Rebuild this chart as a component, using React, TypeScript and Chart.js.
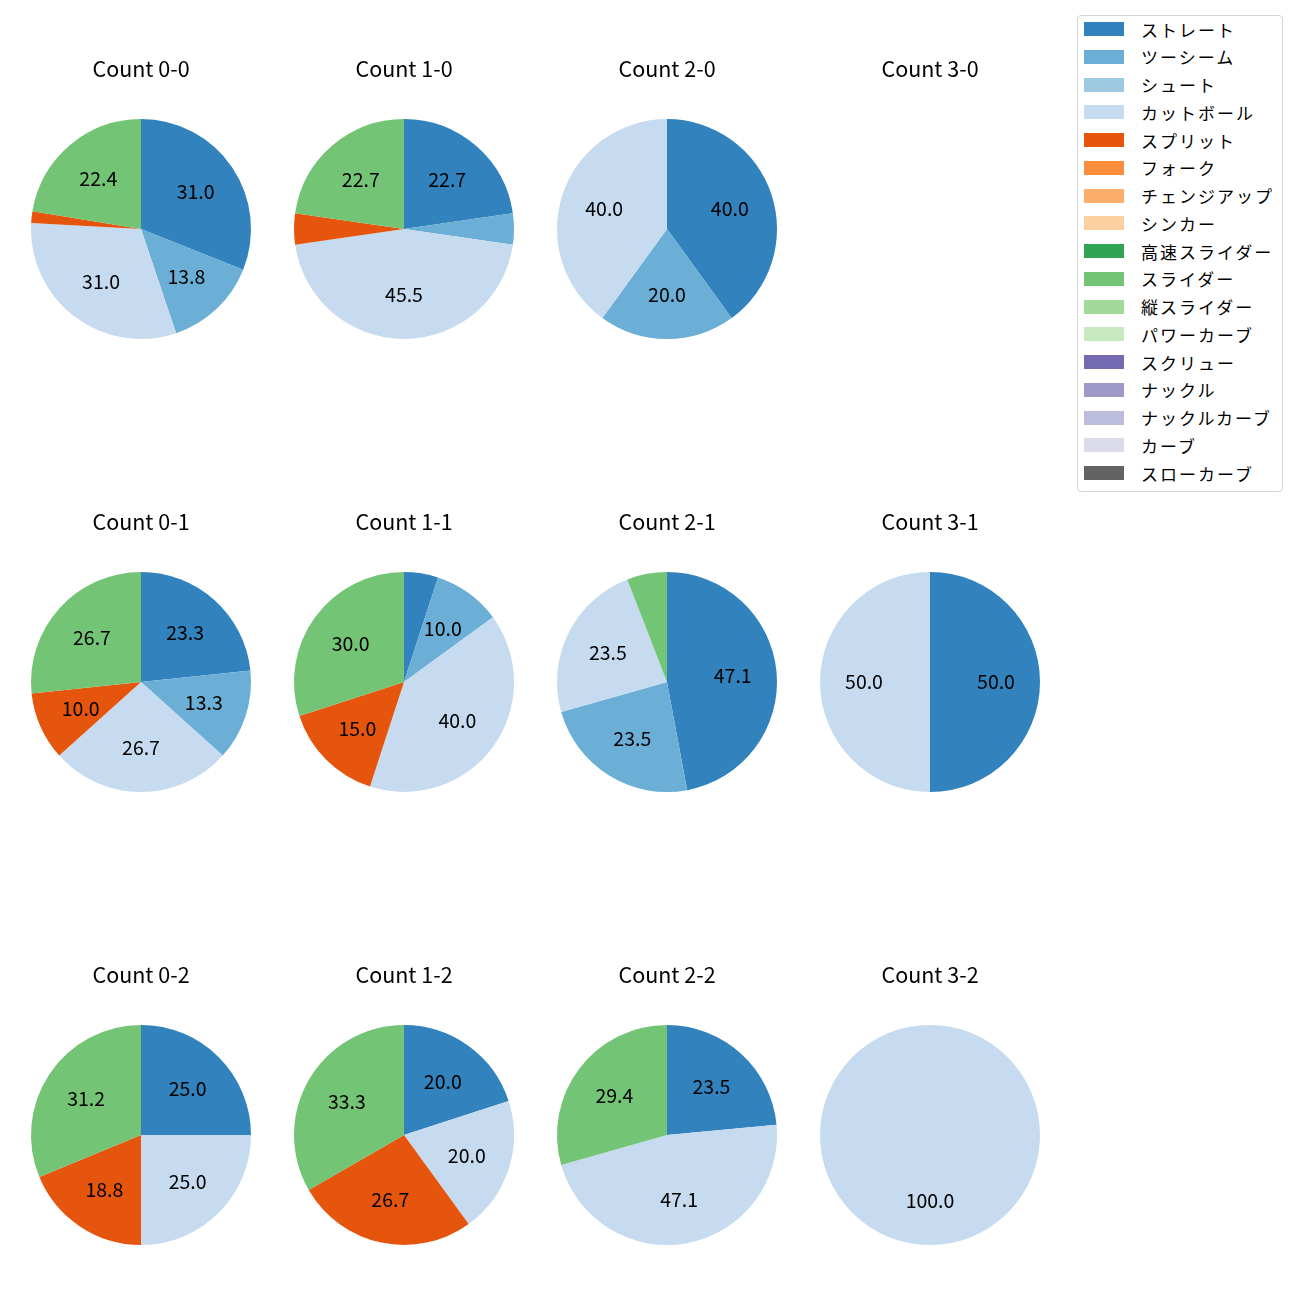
import React, { useEffect, useRef } from "react";
import { Chart, registerables } from "chart.js";

Chart.register(...registerables);

const pitchTypes = [
  "ストレート", "ツーシーム", "シュート", "カットボール", "スプリット", "フォーク",
  "チェンジアップ", "シンカー", "高速スライダー", "スライダー", "縦スライダー",
  "パワーカーブ", "スクリュー", "ナックル", "ナックルカーブ", "カーブ", "スローカーブ",
];

const pitchColors = [
  "#3182bd", "#6baed6", "#9ecae1", "#c6dbef", "#e6550d", "#fd8d3c", "#fdae6b",
  "#fdd0a2", "#31a354", "#74c476", "#a1d99b", "#c7e9c0", "#756bb1", "#9e9ac8",
  "#bcbddc", "#dadaeb", "#636363",
];

const countTitles = [
  "Count 0-0", "Count 1-0", "Count 2-0", "Count 3-0",
  "Count 0-1", "Count 1-1", "Count 2-1", "Count 3-1",
  "Count 0-2", "Count 1-2", "Count 2-2", "Count 3-2",
];

// pitch counts per category, in pitchTypes order
const count00 = [18, 8, 0, 18, 1, 0, 0, 0, 0, 13, 0, 0, 0, 0, 0, 0, 0];
const count10 = [5, 1, 0, 10, 1, 0, 0, 0, 0, 5, 0, 0, 0, 0, 0, 0, 0];
const count20 = [2, 1, 0, 2, 0, 0, 0, 0, 0, 0, 0, 0, 0, 0, 0, 0, 0];
const count30 = [0, 0, 0, 0, 0, 0, 0, 0, 0, 0, 0, 0, 0, 0, 0, 0, 0];
const count01 = [7, 4, 0, 8, 3, 0, 0, 0, 0, 8, 0, 0, 0, 0, 0, 0, 0];
const count11 = [1, 2, 0, 8, 3, 0, 0, 0, 0, 6, 0, 0, 0, 0, 0, 0, 0];
const count21 = [8, 4, 0, 4, 0, 0, 0, 0, 0, 1, 0, 0, 0, 0, 0, 0, 0];
const count31 = [1, 0, 0, 1, 0, 0, 0, 0, 0, 0, 0, 0, 0, 0, 0, 0, 0];
const count02 = [4, 0, 0, 4, 3, 0, 0, 0, 0, 5, 0, 0, 0, 0, 0, 0, 0];
const count12 = [3, 0, 0, 3, 4, 0, 0, 0, 0, 5, 0, 0, 0, 0, 0, 0, 0];
const count22 = [4, 0, 0, 8, 0, 0, 0, 0, 0, 5, 0, 0, 0, 0, 0, 0, 0];
const count32 = [0, 0, 0, 1, 0, 0, 0, 0, 0, 0, 0, 0, 0, 0, 0, 0, 0];

const allCounts = [
  count00, count10, count20, count30,
  count01, count11, count21, count31,
  count02, count12, count22, count32,
];

const FONT = "'Noto Sans CJK JP', 'Noto Sans', sans-serif";
const colCenters = [141, 404, 667, 930];
const rowCenters = [229, 682, 1135];
const R = 110;
const CW = 260;
const CH = 300;
const PAD_TOP = 70;

// Python-style "%.1f" (round half to even on exact halves)
function fmt1(v: number): string {
  const s = v * 10;
  const fl = Math.floor(s);
  const d = s - fl;
  let n: number;
  if (Math.abs(d - 0.5) < 1e-9) n = fl % 2 === 0 ? fl : fl + 1;
  else n = Math.round(s);
  return (n / 10).toFixed(1);
}

const pieLabelPlugin = {
  id: "pieLabels",
  afterDatasetsDraw(chart: any) {
    const ctx = chart.ctx;
    const meta = chart.getDatasetMeta(0);
    const data = chart.data.datasets[0].data as number[];
    const total = data.reduce((a, b) => a + b, 0);
    if (!total) return;
    ctx.save();
    ctx.font = `19.5px ${FONT}`;
    ctx.fillStyle = "#000";
    ctx.textAlign = "center";
    ctx.textBaseline = "middle";
    meta.data.forEach((arc: any, i: number) => {
      const pct = (data[i] / total) * 100;
      if (pct < 9.5) return;
      const { x, y, startAngle, endAngle, outerRadius } = arc.getProps(
        ["x", "y", "startAngle", "endAngle", "outerRadius"], true);
      const mid = (startAngle + endAngle) / 2;
      const r = outerRadius * 0.6;
      ctx.fillText(fmt1(pct), x + Math.cos(mid) * r, y + Math.sin(mid) * r);
    });
    ctx.restore();
  },
};

const titlePlugin = {
  id: "subTitle",
  afterDraw(chart: any) {
    const ctx = chart.ctx;
    ctx.save();
    ctx.font = `21.5px ${FONT}`;
    ctx.fillStyle = "#000";
    ctx.textAlign = "center";
    ctx.textBaseline = "middle";
    ctx.fillText(chart.options.plugins.subTitle.text, CW / 2, 20);
    ctx.restore();
  },
};

function PieCell({ idx }: { idx: number }) {
  const ref = useRef<HTMLCanvasElement | null>(null);
  useEffect(() => {
    if (!ref.current) return;
    const chart = new Chart(ref.current, {
      type: "pie",
      data: {
        labels: pitchTypes,
        datasets: [{
          data: allCounts[idx],
          backgroundColor: pitchColors,
          borderWidth: 0,
        }],
      },
      options: {
        animation: false,
        responsive: false,
        devicePixelRatio: 1,
        layout: { padding: { top: PAD_TOP, bottom: CH - PAD_TOP - 2 * R, left: (CW - 2 * R) / 2, right: (CW - 2 * R) / 2 } },
        plugins: {
          legend: { display: false },
          tooltip: { enabled: false },
          subTitle: { text: countTitles[idx] },
        } as any,
      },
      plugins: [pieLabelPlugin, titlePlugin],
    });
    return () => chart.destroy();
  }, [idx]);
  const col = idx % 4;
  const row = Math.floor(idx / 4);
  return (
    <canvas
      ref={ref}
      width={CW}
      height={CH}
      style={{
        position: "absolute",
        left: colCenters[col] - CW / 2,
        top: rowCenters[row] - PAD_TOP - R,
        width: CW,
        height: CH,
      }}
    />
  );
}

function Legend() {
  return (
    <div
      style={{
        position: "absolute",
        left: 1077,
        top: 15,
        width: 206,
        height: 477,
        border: "1px solid #d5d5d5",
        borderRadius: 4,
        boxSizing: "border-box",
        background: "#fff",
        fontFamily: FONT,
        fontSize: 17,
      }}
    >
      {pitchTypes.map((p, i) => (
        <div
          key={p}
          style={{
            position: "absolute",
            left: 6,
            top: -1 + 27.75 * i,
            height: 28,
            display: "flex",
            alignItems: "center",
            whiteSpace: "nowrap",
          }}
        >
          <span style={{ display: "inline-block", width: 40, height: 14, background: pitchColors[i] }} />
          <span style={{ marginLeft: 17, letterSpacing: 2 }}>{p}</span>
        </div>
      ))}
    </div>
  );
}

export default function App() {
  return (
    <div style={{ position: "absolute", left: 0, top: 0, width: 1300, height: 1300, background: "#fff" }}>
      {countTitles.map((_, i) => (
        <PieCell key={i} idx={i} />
      ))}
      <Legend />
    </div>
  );
}
